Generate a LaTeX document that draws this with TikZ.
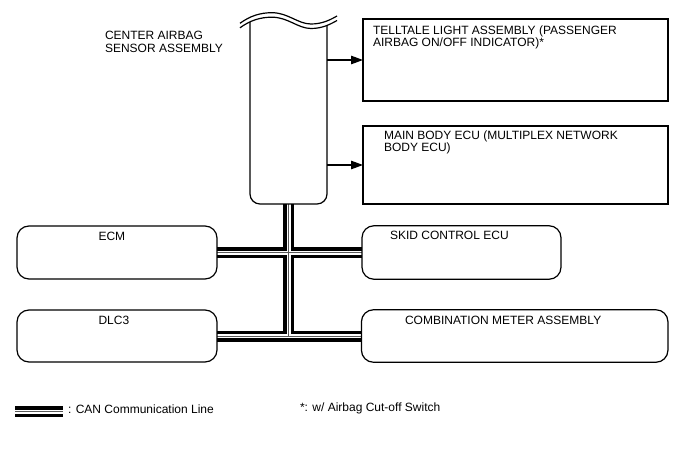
\documentclass[tikz,border=0pt]{standalone}
\usepackage{fontspec}
\setmainfont{Liberation Sans}
\usetikzlibrary{arrows.meta,backgrounds}
\begin{document}
\begin{tikzpicture}[x=1pt,y=-1pt,
  every node/.style={font=\fontsize{12}{12.5}\selectfont, inner sep=0pt, outer sep=0pt},
  sqbox/.style={draw, line width=1.2pt, rectangle},
  rbox/.style={draw, line width=1.2pt, rectangle, rounded corners=12pt},
  ghost/.style={draw=none, rectangle},
  lbl/.style={anchor=base west},
  arr/.style={line width=1.2pt, -{Triangle[length=12pt,width=8.5pt]}},
  wave/.style={line width=1.2pt}
]
\useasboundingbox (0,0) rectangle (688,463);

% boxes
\node[ghost, minimum width=77pt, minimum height=204pt] (sensor) at (288.5,102) {};
\node[sqbox, minimum width=305pt, minimum height=82pt] (tell) at (515.5,60) {};
\node[sqbox, minimum width=305pt, minimum height=78pt] (main) at (515.5,165) {};
\node[rbox, minimum width=200pt, minimum height=53pt] (ecm) at (117,252.5) {};
\node[rbox, minimum width=200pt, minimum height=52pt] (dlc) at (117,336) {};
\node[rbox, minimum width=199pt, minimum height=53.5pt] (skid) at (461.5,252.5) {};
\node[rbox, minimum width=306.5pt, minimum height=52.5pt] (comb) at (514.7,336) {};

% sensor box outline, cut by the wavy break
\begin{scope}
  \clip (240,27.8) .. controls (250,20.5) and (260,17.2) .. (272,17.2)
        .. controls (288,17.2) and (298,28.5) .. (311,28.5)
        .. controls (322,28.5) and (330,24.5) .. (337,20.5)
        -- (337,300) -- (240,300) -- cycle;
  \draw[line width=1.2pt, rounded corners=10pt]
    (sensor.north west) -- (sensor.south west) -- (sensor.south east) -- (sensor.north east);
\end{scope}
\draw[wave] (240,23.3) .. controls (250,16) and (260,12.7) .. (272,12.7)
        .. controls (288,12.7) and (298,24) .. (311,24)
        .. controls (322,24) and (330,20) .. (337,16);
\draw[wave] (240,27.8) .. controls (250,20.5) and (260,17.2) .. (272,17.2)
        .. controls (288,17.2) and (298,28.5) .. (311,28.5)
        .. controls (322,28.5) and (330,24.5) .. (337,20.5);

% arrows
\draw[arr] (sensor.east |- tell.west) -- (tell.west);
\draw[arr] (sensor.east |- main.west) -- (main.west);

% CAN bus
\coordinate (j2) at (sensor.south |- dlc.east);
\coordinate (lg1) at (15,411.5);
\coordinate (lg2) at (63,411.5);
\begin{scope}[on background layer]
\foreach \w/\c in {11/black, 4/white, 1/black!65} {
  \draw[line width=\w pt, \c] (sensor.south) -- (j2)
    (ecm.east) -- (ecm.east -| skid.west)
    (dlc.east) -- (dlc.east -| comb.west)
    (lg1) -- (lg2);
}
\end{scope}

% labels
\node[lbl] (tsensor) at (105,39.5) {\begin{tabular}[t]{@{}l@{}}CENTER AIRBAG\\SENSOR ASSEMBLY\end{tabular}};
\node[lbl] (ttell) at (373,34.3) {\begin{tabular}[t]{@{}l@{}}TELLTALE LIGHT ASSEMBLY (PASSENGER\\AIRBAG ON/OFF INDICATOR)*\end{tabular}};
\node[lbl] (tmain) at (384,139.3) {\begin{tabular}[t]{@{}l@{}}MAIN BODY ECU (MULTIPLEX NETWORK\\BODY ECU)\end{tabular}};
\node[lbl] (tecm) at (98.5,240) {ECM};
\node[lbl] (tdlc) at (98.5,324) {DLC3};
\node[lbl] (tskid) at (390,239) {SKID CONTROL ECU};
\node[lbl] (tcomb) at (405,324.3) {COMBINATION METER ASSEMBLY};
\node[lbl] (tleg) at (68,413) {: CAN Communication Line};
\node[lbl] (tnote) at (300,411) {*: w/ Airbag Cut-off Switch};
\end{tikzpicture}
\end{document}
